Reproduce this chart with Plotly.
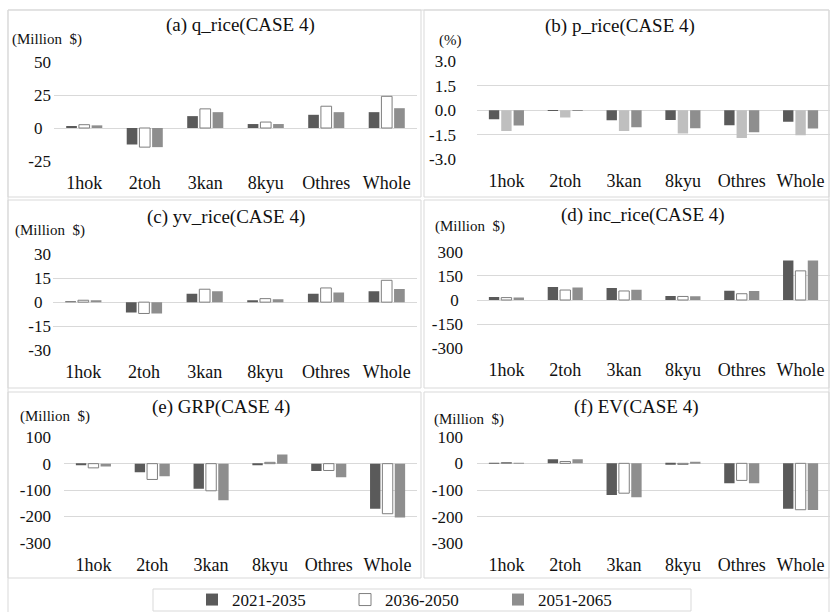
import plotly.graph_objects as go

categories = ["1hok", "2toh", "3kan", "8kyu", "Othres", "Whole"]
periods = ["2021-2035", "2036-2050", "2051-2065"]

q_rice_2021 = [1, -12.5, 9, 3, 10, 12]
q_rice_2036 = [2.5, -14.5, 14.5, 4.5, 16.5, 24]
q_rice_2051 = [2, -14.5, 12, 3, 12, 15]

p_rice_2021 = [-0.55, -0.05, -0.62, -0.6, -0.92, -0.71]
p_rice_2036 = [-1.27, -0.45, -1.27, -1.43, -1.7, -1.53]
p_rice_2051 = [-0.94, -0.05, -1.04, -1.1, -1.35, -1.12]

yv_rice_2021 = [0.4, -6.5, 5.2, 1.0, 5.2, 6.9]
yv_rice_2036 = [1.2, -7.1, 8.1, 2.2, 8.9, 13.7]
yv_rice_2051 = [1.2, -7.1, 6.9, 1.8, 6.0, 8.3]

inc_rice_2021 = [18, 80, 74, 25, 57, 245]
inc_rice_2036 = [15, 62, 56, 22, 39, 181]
inc_rice_2051 = [16, 78, 64, 24, 56, 245]

grp_2021 = [-6, -33, -95, -5, -28, -171]
grp_2036 = [-16, -60, -103, 5, -26, -190]
grp_2051 = [-11, -48, -139, 35, -52, -204]

ev_2021 = [1, 15, -119, -4, -75, -170]
ev_2036 = [3, 7, -112, -4, -64, -174]
ev_2051 = [1, 15, -127, 4, -75, -175]

titles = ["(a) q_rice(CASE 4)", "(b) p_rice(CASE 4)", "(c) yv_rice(CASE 4)",
          "(d) inc_rice(CASE 4)", "(e) GRP(CASE 4)", "(f) EV(CASE 4)"]
units = ["(Million  $)", "(%)", "(Million  $)", "(Million  $)", "(Million  $)", "(Million  $)"]

ticks_a = [-25, 0, 25, 50]
ticktext_a = ["-25", "0\u2007", "25", "50"]
ticks_b = [-3.0, -1.5, 0.0, 1.5, 3.0]
ticktext_b = ["-3.0", "-1.5", "0.0", "1.5", "3.0"]
ticks_c = [-30, -15, 0, 15, 30]
ticktext_c = ["-30", "-15", "0\u2007", "15", "30"]
ticks_d = [-300, -150, 0, 150, 300]
ticktext_d = ["-300", "-150", "0\u00a0", "150", "300"]
ticks_e = [-300, -200, -100, 0, 100]
ticktext_e = ["-300", "-200", "-100", "0", "100"]
ticks_f = [-300, -200, -100, 0, 100]
ticktext_f = ["-300", "-200", "-100", "0", "100"]

W, H = 830, 612
def X(px):
    return px / W
def Y(py):
    return 1 - py / H

FONT = "Liberation Serif"
TXT = "#111111"
GRID = "#d9d9d9"
DARK = "#5a5a5a"
GRAY = "#8e8e8e"
LIGHT = "#bfbfbf"

panels = [
    dict(series=[q_rice_2021, q_rice_2036, q_rice_2051], ticks=ticks_a, tt=ticktext_a,
         xd=(54, 417), yd=(161, 62), rng=(-25, 50), stand=2,
         title=(240, 25), unit=(10, 40), white2=True),
    dict(series=[p_rice_2021, p_rice_2036, p_rice_2051], ticks=ticks_b, tt=ticktext_b,
         xd=(477, 830), yd=(159.3, 61), rng=(-3, 3), stand=20,
         title=(620, 26), unit=(437, 41), white2=False),
    dict(series=[yv_rice_2021, yv_rice_2036, yv_rice_2051], ticks=ticks_c, tt=ticktext_c,
         xd=(53, 417), yd=(350, 254.3), rng=(-30, 30), stand=1,
         title=(226, 217), unit=(13, 230), white2=True),
    dict(series=[inc_rice_2021, inc_rice_2036, inc_rice_2051], ticks=ticks_d, tt=ticktext_d,
         xd=(477, 830), yd=(348.3, 251.7), rng=(-300, 300), stand=13,
         title=(643, 215), unit=(433, 226), white2=True),
    dict(series=[grp_2021, grp_2036, grp_2051], ticks=ticks_e, tt=ticktext_e,
         xd=(64, 417), yd=(542.7, 437.3), rng=(-300, 100), stand=12,
         title=(221, 407), unit=(18, 416), white2=True),
    dict(series=[ev_2021, ev_2036, ev_2051], ticks=ticks_f, tt=ticktext_f,
         xd=(477, 830), yd=(543.3, 436.7), rng=(-300, 100), stand=13,
         title=(636, 407), unit=(432, 419), white2=True),
]

fig = go.Figure()
annotations = []
shapes = []

for i, p in enumerate(panels):
    n = "" if i == 0 else str(i + 1)
    xa, ya = "x" + n, "y" + n
    for k, vals in enumerate(p["series"]):
        if k == 0:
            color, line_c, lw = DARK, DARK, 0
        elif k == 1:
            if p["white2"]:
                color, line_c, lw = "#ffffff", "#7f7f7f", 1
            else:
                color, line_c, lw = LIGHT, LIGHT, 0
        else:
            color, line_c, lw = GRAY, GRAY, 0
        fig.add_trace(go.Bar(
            x=categories, y=vals, name=periods[k], xaxis=xa, yaxis=ya,
            marker=dict(color=color, line=dict(color=line_c, width=lw)),
            showlegend=(i == 0), legendgroup=periods[k]))
    fig.layout["xaxis" + n] = dict(
        domain=[X(p["xd"][0]), X(p["xd"][1])], anchor=ya, automargin=False,
        type="category", range=[-0.5, 5.5], showgrid=False, showline=False,
        ticks="", tickfont=dict(family=FONT, size=18, color=TXT),
        ticklabelstandoff=9, fixedrange=True)
    fig.layout["yaxis" + n] = dict(
        domain=[Y(p["yd"][0]), Y(p["yd"][1])], anchor=xa, automargin=False,
        range=list(p["rng"]), tickvals=p["ticks"], ticktext=p["tt"],
        showgrid=True, gridcolor=GRID, gridwidth=1,
        zeroline=True, zerolinecolor=GRID, zerolinewidth=1,
        showline=False, ticks="",
        tickfont=dict(family=FONT, size=17, color=TXT),
        ticklabelstandoff=p["stand"], fixedrange=True)
    annotations.append(dict(
        text=titles[i], x=X(p["title"][0]), y=Y(p["title"][1]),
        xref="paper", yref="paper", xanchor="center", yanchor="middle",
        showarrow=False, font=dict(family=FONT, size=19, color=TXT)))
    annotations.append(dict(
        text=units[i], x=X(p["unit"][0]), y=Y(p["unit"][1]),
        xref="paper", yref="paper", xanchor="left", yanchor="middle",
        showarrow=False, font=dict(family=FONT, size=15, color=TXT)))

boxes = [(8, 10, 421, 197), (424, 10, 829, 197),
         (8, 200, 421, 388), (424, 200, 829, 388),
         (8, 392, 421, 578), (424, 392, 829, 578),
         (8, 10, 829, 640), (153, 589, 691, 611)]
for (x0, y0, x1, y1) in boxes:
    shapes.append(dict(type="rect", xref="paper", yref="paper",
                       x0=X(x0), x1=X(x1), y0=Y(y1), y1=Y(y0),
                       line=dict(color=GRID, width=1), fillcolor="rgba(0,0,0,0)",
                       layer="below"))

fig.update_layout(
    width=W, height=H, margin=dict(l=0, r=0, t=0, b=0, autoexpand=False),
    paper_bgcolor="white", plot_bgcolor="white",
    barmode="group", bargap=0.37, bargroupgap=0.16,
    annotations=annotations, shapes=shapes,
    legend=dict(orientation="h", x=X(192), xanchor="left", y=Y(600), yanchor="middle",
                bgcolor="rgba(0,0,0,0)", borderwidth=0,
                font=dict(family=FONT, size=17, color=TXT),
                itemwidth=30, entrywidth=108, entrywidthmode="pixels",
                traceorder="normal"),
    font=dict(family=FONT, color=TXT),
)

fig.write_html("out.html", config={"displayModeBar": False},
               post_script="document.body.style.margin='0';")
